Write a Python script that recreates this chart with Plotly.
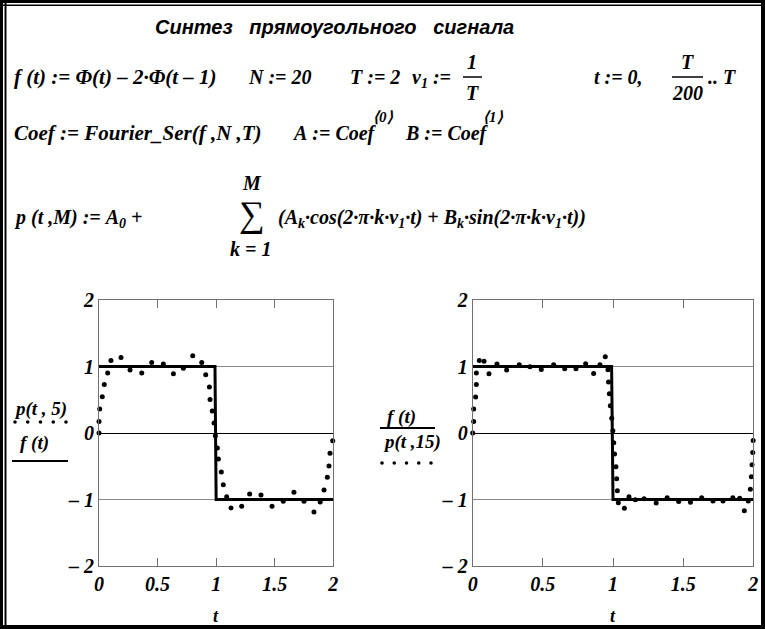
import plotly.graph_objects as go

W, H = 765, 629

# f(t) = Φ(t) − 2·Φ(t − 1), drawn through its break points on [0, T]
f_t = [0.0, 0.99, 1.0, 2.0]
f_y = [1.0, 1.0, -1.0, -1.0]

# partial Fourier sum p(t, 5), dotted trace
p5_t = [0.000, 0.000, 0.006, 0.028, 0.045, 0.074, 0.102, 0.188, 0.265, 0.365,
        0.450, 0.549, 0.635, 0.720, 0.800, 0.877, 0.911, 0.942, 0.948, 0.967,
        0.982, 0.993, 1.010, 1.019, 1.044, 1.061, 1.090, 1.127, 1.218, 1.286,
        1.383, 1.477, 1.573, 1.664, 1.750, 1.835, 1.888, 1.921, 1.949, 1.963,
        1.972, 1.995]
p5_y = [0.000, 0.174, 0.361, 0.546, 0.731, 0.902, 1.092, 1.137, 0.947, 0.902,
        1.062, 1.038, 0.892, 0.972, 1.163, 1.062, 0.877, 0.692, 0.505, 0.331,
        0.150, -0.041, -0.226, -0.391, -0.586, -0.777, -0.957, -1.127, -1.103, -0.917,
        -0.932, -1.103, -1.028, -0.892, -1.028, -1.188, -1.038, -0.857, -0.667, -0.496,
        -0.306, -0.116]

# partial Fourier sum p(t, 15), dotted trace
p15_t = [0.000, 0.007, 0.007, 0.021, 0.026, 0.026, 0.047, 0.081, 0.116, 0.173,
         0.242, 0.332, 0.408, 0.489, 0.577, 0.656, 0.736, 0.805, 0.862, 0.907,
         0.945, 0.964, 0.968, 0.974, 0.981, 0.991, 0.999, 1.005, 1.011, 1.021,
         1.026, 1.031, 1.038, 1.081, 1.114, 1.159, 1.222, 1.308, 1.386, 1.468,
         1.552, 1.632, 1.713, 1.784, 1.854, 1.903, 1.936, 1.964, 1.979, 1.986,
         1.991, 1.996, 1.999]
p15_y = [0.000, 0.174, 0.361, 0.541, 0.731, 0.902, 1.092, 1.080, 0.892, 1.038,
         0.947, 1.027, 0.997, 0.956, 1.027, 0.967, 0.967, 1.042, 0.896, 1.027,
         1.147, 0.952, 0.767, 0.591, 0.411, 0.220, 0.032, -0.146, -0.316, -0.507,
         -0.687, -0.868, -1.048, -1.131, -0.958, -1.003, -0.988, -1.053, -0.973, -1.029,
         -1.041, -0.973, -1.023, -1.023, -0.973, -0.983, -1.168, -1.023, -0.845, -0.657,
         -0.477, -0.292, -0.111]

x_ticks = [0, 0.5, 1, 1.5, 2]
x_tick_text = ["0", "0.5", "1", "1.5", "2"]
y_ticks = [-2, -1, 0, 1, 2]
y_tick_text = ["\u2013 2", "\u2013 1", "0", "1", "2"]

SERIF = "Liberation Serif"
SANS = "Liberation Sans"
NB = "\u00a0"


def X(px):
    return px / W


def Y(py):
    return 1 - py / H


tick_font = dict(family=SERIF, size=20, color="black", weight="bold", style="italic")

fig = go.Figure()

# left panel: p(t,5) dotted and f(t) solid
fig.add_trace(go.Scatter(x=p5_t, y=p5_y, mode="markers", cliponaxis=False,
                         marker=dict(size=5, color="black"), xaxis="x", yaxis="y"))
fig.add_trace(go.Scatter(x=f_t, y=f_y, mode="lines", line=dict(color="black", width=3),
                         xaxis="x", yaxis="y"))
# right panel: f(t) solid and p(t,15) dotted
fig.add_trace(go.Scatter(x=f_t, y=f_y, mode="lines", line=dict(color="black", width=3),
                         xaxis="x2", yaxis="y2"))
fig.add_trace(go.Scatter(x=p15_t, y=p15_y, mode="markers", cliponaxis=False,
                         marker=dict(size=5, color="black"), xaxis="x2", yaxis="y2"))


def xaxis_style(domain, anchor):
    return dict(domain=domain, anchor=anchor, range=[0, 2], tickmode="array",
                tickvals=x_ticks, ticktext=x_tick_text, ticks="inside", ticklen=8,
                tickwidth=1, tickcolor="#707070", showline=True, linecolor="#707070",
                linewidth=1, mirror="allticks", showgrid=False, zeroline=False,
                tickfont=tick_font, fixedrange=True, automargin=False)


def yaxis_style(domain, anchor):
    return dict(domain=domain, anchor=anchor, range=[-2, 2], tickmode="array",
                tickvals=y_ticks, ticktext=y_tick_text, ticks="", showline=True,
                linecolor="#707070", linewidth=1, mirror=True, showgrid=True,
                gridcolor="#8a8a8a", gridwidth=1, zeroline=True, zerolinecolor="black",
                zerolinewidth=1, tickfont=tick_font, fixedrange=True, automargin=False)


ydom = [Y(566), Y(300)]
fig.update_layout(
    template="none",
    width=W, height=H, autosize=False, showlegend=False,
    margin=dict(l=0, r=0, t=0, b=0, pad=0, autoexpand=False),
    paper_bgcolor="white", plot_bgcolor="white",
    xaxis=xaxis_style([X(99), X(333.3)], "y"),
    yaxis=yaxis_style(ydom, "x"),
    xaxis2=xaxis_style([X(472.7), X(753.3)], "y2"),
    yaxis2=yaxis_style(ydom, "x2"),
)

ann = []
shapes = []


def txt(x, y, s, size=20, anchor="left", family=SERIF, bold=True, italic=True):
    ann.append(dict(x=X(x), y=Y(y), xref="paper", yref="paper", text=s,
                    showarrow=False, xanchor=anchor, yanchor="middle",
                    font=dict(family=family, size=size, color="black",
                              weight="bold" if bold else "normal",
                              style="italic" if italic else "normal")))


def hline(x0, x1, y, width=1.5):
    shapes.append(dict(type="line", xref="paper", yref="paper", x0=X(x0), x1=X(x1),
                       y0=Y(y), y1=Y(y), line=dict(color="black", width=width)))


def rect(x0, y0, x1, y1):
    shapes.append(dict(type="rect", xref="paper", yref="paper", x0=X(x0), x1=X(x1),
                       y0=Y(y1), y1=Y(y0), fillcolor="black", line=dict(width=0)))


def dot_row(x0, x1, y, n=5, r=1.8):
    for i in range(n):
        cx = x0 + (x1 - x0) * i / (n - 1)
        shapes.append(dict(type="circle", xref="paper", yref="paper",
                           x0=X(cx - r), x1=X(cx + r), y0=Y(y + r), y1=Y(y - r),
                           fillcolor="black", line=dict(width=0)))


# heading
txt(334, 27, f"Синтез{NB*3}прямоугольного{NB*3}сигнала", size=20, anchor="center", family=SANS)

# definitions
txt(12, 77, f"f{NB}(t){NB}:={NB}Φ(t){NB}–{NB}2·Φ(t{NB}–{NB}1)", size=21)
txt(246, 77, f"N{NB}:={NB}20")
txt(348, 77, f"T{NB}:={NB}2")
txt(410, 79, f"ν<sub>1</sub>{NB}:=")
txt(472, 62, "1", anchor="center")
hline(463, 482, 77, width=1.5)
txt(472, 93, "T", anchor="center")
txt(592, 77, f"t{NB}:={NB}0,")
txt(687, 62, "T", anchor="center")
hline(672, 703, 77, width=1.5)
txt(687, 93, "200", anchor="center")
txt(706, 77, f"..{NB}T")

# Fourier coefficients
txt(12, 133, f"Coef{NB}:={NB}Fourier_Ser(f{NB},N{NB},T)", size=21)
txt(290, 133, f"A{NB}:={NB}Coef")
txt(371, 117, "⟨0⟩", size=15)
txt(403, 133, f"B{NB}:={NB}Coef")
txt(481, 117, "⟨1⟩", size=15)

# partial sum
txt(12, 218, f"p{NB}(t{NB},M){NB}:={NB}A<sub>0</sub>{NB}+")
txt(252, 183, "M", anchor="center")
txt(252, 214, "∑", size=36, anchor="center", bold=False, italic=False)
txt(250, 249, f"k{NB}={NB}1", anchor="center")
txt(276, 218, f"(A<sub>k</sub>·cos(2·π·k·ν<sub>1</sub>·t){NB}+{NB}B<sub>k</sub>·sin(2·π·k·ν<sub>1</sub>·t))")

# trace labels, left panel
txt(40, 409, f"p(t{NB},{NB}5)", size=19, anchor="center")
dot_row(15, 66, 422)
txt(34, 443, f"f{NB}(t)", size=19, anchor="center")
hline(12, 68, 461, width=2)

# trace labels, right panel
txt(401, 417, f"f{NB}(t)", size=19, anchor="center")
hline(380, 435, 428, width=2)
txt(412, 442, f"p(t{NB},15)", size=19, anchor="center")
dot_row(382, 431, 463)

# axis titles
txt(216, 616, "t", size=18, anchor="center")
txt(613, 616, "t", size=18, anchor="center")

# worksheet frame
rect(0, 0, 765, 3)
rect(0, 4.5, 765, 6)
rect(0, 0, 3, 629)
rect(4.5, 0, 6.5, 629)
rect(761, 0, 765, 629)
rect(0, 625, 765, 629)

fig.update_layout(annotations=ann, shapes=shapes)
fig.write_html("out.html")
